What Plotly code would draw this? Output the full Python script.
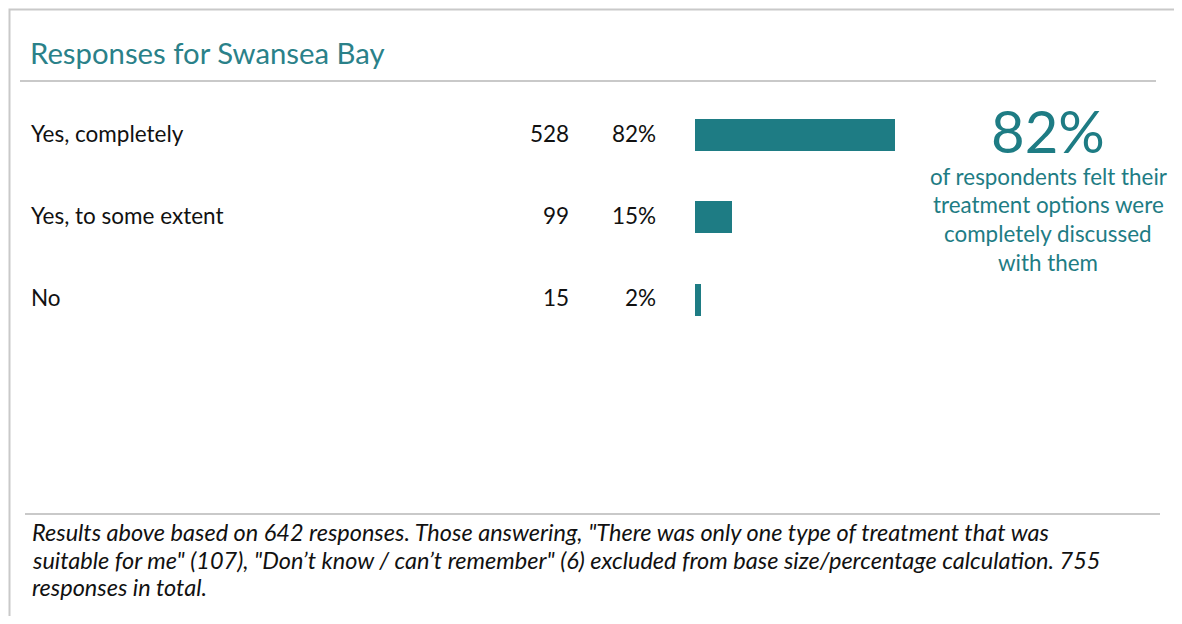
import plotly.graph_objects as go

# -----------------------------
# Data
# -----------------------------
categories = ["Yes, completely", "Yes, to some extent", "No"]
counts = [528, 99, 15]
total_responses = 642
percents = [round(c / total_responses * 100, 1) for c in counts]

headline_value = "82%"
headline_lines = [
    "of respondents felt their",
    "treatment options were",
    "completely discussed",
    "with them",
]
title_text = "Responses for Swansea Bay"
footnote_lines = [
    "Results above based on 642 responses. Those answering, \"There was only one type of treatment that was",
    "suitable for me\" (107), \"Don\u2019t know / can\u2019t remember\" (6) excluded from base size/percentage calculation. 755",
    "responses in total.",
]

# page has an 8px body margin, so the figure is sized to fit inside the window
OFF = 8
W, H = 1174, 608
TEAL = "#1e7c84"
TITLE_TEAL = "#2a8189"
GREY = "#c9c9c9"
FONT = "Lato, 'Open Sans', sans-serif"


def px(x):
    return (x - OFF) / W


def py(y):
    return 1 - (y - OFF) / H


fig = go.Figure()

fig.add_trace(
    go.Bar(
        x=percents,
        y=categories,
        orientation="h",
        marker=dict(color=TEAL, line=dict(width=0)),
        width=0.39,
        hovertemplate="%{y}: %{x}%<extra></extra>",
        showlegend=False,
    )
)

annotations = []

# row labels, counts and percentages
for cat, n, p in zip(categories, counts, percents):
    for x, txt, anchor in [
        (29, cat, "left"),
        (571, str(n), "right"),
        (658, f"{round(p):.0f}%", "right"),
    ]:
        annotations.append(dict(
            x=px(x), y=cat, xref="paper", yref="y", text=txt,
            showarrow=False, xanchor=anchor, yanchor="middle", yshift=2,
            font=dict(family=FONT, size=22.5, color="#111111"),
        ))

# title
annotations.append(dict(
    x=px(28), y=py(52), xref="paper", yref="paper", text=title_text,
    showarrow=False, xanchor="left", yanchor="middle",
    font=dict(family=FONT, size=29.3, color=TITLE_TEAL),
))

# headline
annotations.append(dict(
    x=px(1048), y=py(131), xref="paper", yref="paper", text=headline_value,
    showarrow=False, xanchor="center", yanchor="middle",
    font=dict(family=FONT, size=58, color=TEAL),
))
for i, line in enumerate(headline_lines):
    annotations.append(dict(
        x=px(1048), y=py(176 + i * 28.8), xref="paper", yref="paper", text=line,
        showarrow=False, xanchor="center", yanchor="middle",
        font=dict(family=FONT, size=22.4, color=TEAL),
    ))

# footnote
for i, line in enumerate(footnote_lines):
    annotations.append(dict(
        x=px(30), y=py(532 + i * 27.5), xref="paper", yref="paper",
        text=f"<i>{line}</i>",
        showarrow=False, xanchor="left", yanchor="middle",
        font=dict(family=FONT, size=23.5, color="#111111"),
    ))

shapes = [
    # outer frame: only its top and left edges fall inside the page
    dict(type="rect", xref="paper", yref="paper", x0=px(9.5), x1=px(1230),
         y0=py(9.5), y1=py(700), line=dict(color=GREY, width=2), fillcolor="rgba(0,0,0,0)"),
    # title separator
    dict(type="line", xref="paper", yref="paper", x0=px(20), x1=px(1156), y0=py(81), y1=py(81),
         line=dict(color=GREY, width=2)),
    # footnote separator
    dict(type="line", xref="paper", yref="paper", x0=px(25), x1=px(1160), y0=py(514), y1=py(514),
         line=dict(color=GREY, width=2)),
]

fig.update_layout(
    width=W,
    height=H,
    margin=dict(l=0, r=0, t=0, b=0),
    paper_bgcolor="white",
    plot_bgcolor="white",
    annotations=annotations,
    shapes=shapes,
    xaxis=dict(
        domain=[px(695), px(938)],
        range=[0, 100],
        visible=False,
        fixedrange=True,
    ),
    yaxis=dict(
        domain=[py(340.6), py(93.9)],
        range=[2.5, -0.5],
        visible=False,
        fixedrange=True,
    ),
    bargap=0,
)

fig.write_html("out.html")
